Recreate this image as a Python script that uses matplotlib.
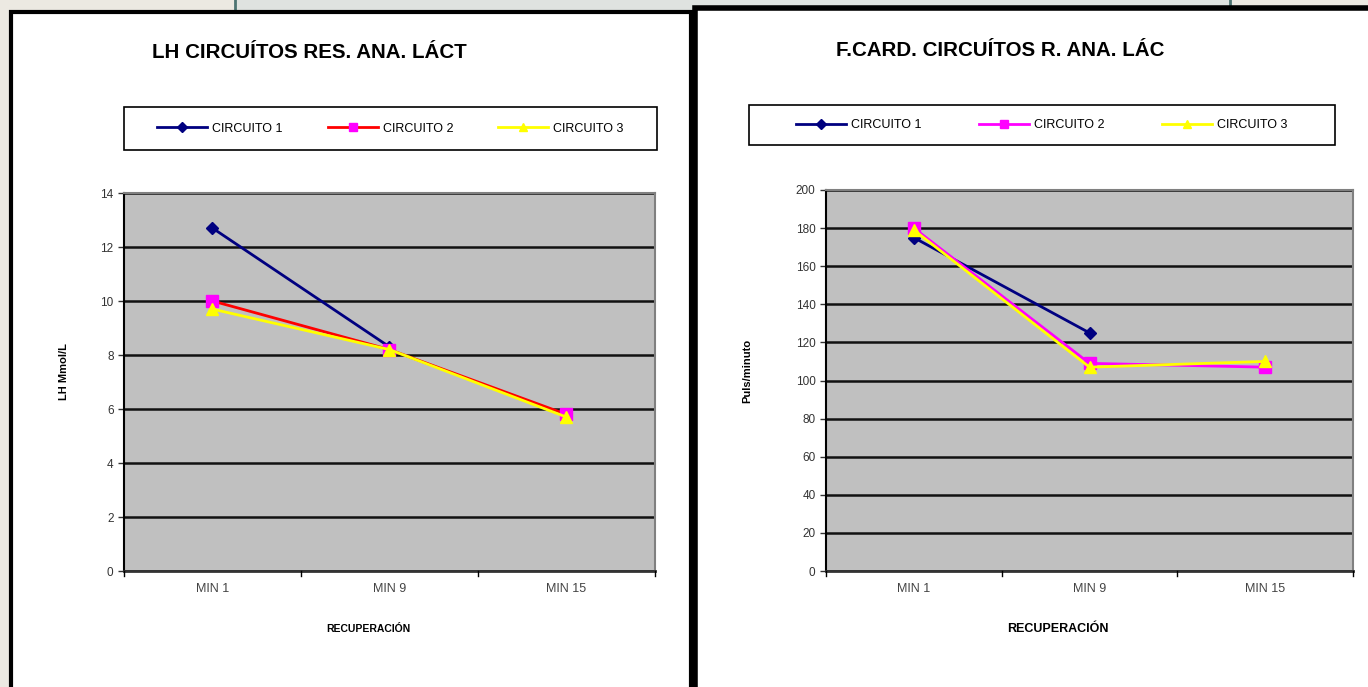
import matplotlib
matplotlib.use("Agg")
import matplotlib.pyplot as plt
import numpy as np
from matplotlib.lines import Line2D
from matplotlib.patches import Rectangle

plt.rcParams["font.family"] = ["Liberation Sans", "DejaVu Sans"]

categories = ["MIN 1", "MIN 9", "MIN 15"]
series_names = ["CIRCUITO 1", "CIRCUITO 2", "CIRCUITO 3"]

lh_c1 = [12.7, 8.3, np.nan]
lh_c2 = [10.0, 8.2, 5.8]
lh_c3 = [9.7, 8.2, 5.7]

fc_c1 = [175, 125, np.nan]
fc_c2 = [180, 109, 107]
fc_c3 = [179, 107, 110]

W, H = 1368, 687
BG = "#ece9e2"
PLOT_BG = "#c0c0c0"


def fx(px):
    return px / W


def fy(py):
    return 1 - py / H


def draw_box(fig, x0, y0, x1, y1, lw, face="white", edge="black", z=0):
    fig.patches.append(Rectangle((fx(x0), fy(y1)), fx(x1 - x0), (y1 - y0) / H,
                                 transform=fig.transFigure, facecolor=face,
                                 edgecolor=edge, linewidth=lw, zorder=z))


def draw_chart(fig, box, data, colors, ylim, ystep, title, title_xy, ylabel, ylabel_x,
               xlabel, xlabel_x, xlabel_size, leg_box, colspace):
    l, t, r, b = box
    ax = fig.add_axes([fx(l), fy(b), fx(r - l), (b - t) / H])
    ax.set_zorder(2)
    ax.set_facecolor(PLOT_BG)
    x = np.arange(len(categories))
    markers = ["D", "s", "^"]
    msizes = [6, 8, 8]
    mcolors_ = ["#000080", "#ff00ff", "#ffff00"]
    for vals, lc, mk, ms, mc, name in zip(data, colors, markers, msizes, mcolors_, series_names):
        ax.plot(x, vals, color=lc, linewidth=2, marker=mk, markersize=ms,
                markerfacecolor=mc, markeredgecolor=mc, label=name, zorder=3)
    ax.set_xlim(-0.5, len(categories) - 0.5)
    ax.set_ylim(*ylim)
    ax.set_yticks(np.arange(ylim[0], ylim[1] + 0.1, ystep))
    ax.set_xticks(x)
    ax.set_xticklabels(categories, fontsize=9, color="#444444")
    ax.tick_params(axis="y", labelsize=8.5, length=4, colors="#333333", width=1)
    ax.tick_params(axis="x", length=0, pad=9)
    # category separator ticks
    for xt in np.arange(-0.5, len(categories), 1.0):
        ax.plot([xt, xt], [ylim[0], ylim[0] - (ylim[1] - ylim[0]) * 0.012], color="black",
                linewidth=1, clip_on=False, zorder=4)
    ax.yaxis.grid(True, color="#111111", linewidth=1.8)
    ax.set_axisbelow(True)
    for side in ["top", "right"]:
        ax.spines[side].set_color("#808080")
        ax.spines[side].set_linewidth(1.5)
    ax.spines["left"].set_color("black")
    ax.spines["left"].set_linewidth(1.5)
    ax.spines["bottom"].set_color("#333333")
    ax.spines["bottom"].set_linewidth(2)

    fig.text(fx(title_xy[0]), fy(title_xy[1]), title, ha="center", va="center",
             fontsize=14.8, fontweight="bold", zorder=3)
    fig.text(fx(ylabel_x), fy((t + b) / 2 - 10), ylabel, rotation=90, ha="center", va="center",
             fontsize=8, fontweight="bold", zorder=3)
    fig.text(fx(xlabel_x), fy(629), xlabel, ha="center", va="center",
             fontsize=xlabel_size, fontweight="bold", zorder=3)

    lx0, ly0, lx1, ly1 = leg_box
    draw_box(fig, lx0, ly0, lx1, ly1, 1.2, z=1)
    handles = [Line2D([0], [0], color=lc, linewidth=2, marker=mk, markersize=ms * 0.8,
                      markerfacecolor=mc, markeredgecolor=mc)
               for lc, mk, ms, mc in zip(colors, markers, msizes, mcolors_)]
    leg = fig.legend(handles, series_names, loc="center", ncol=3,
                     bbox_to_anchor=(fx((lx0 + lx1) / 2), fy((ly0 + ly1) / 2)),
                     frameon=False, fontsize=9, handlelength=4, handletextpad=0.4,
                     columnspacing=colspace)
    leg.set_zorder(3)
    return ax


fig = plt.figure(figsize=(W / 100, H / 100), dpi=100)
fig.patch.set_facecolor(BG)

# top banner strip
draw_box(fig, 235, -4, 1230, 12, 2, face="#dfe3e0", edge="#4d7472")

draw_box(fig, 11, 12, 691, 700, 3)
draw_box(fig, 695, 8, 1372, 700, 4)

draw_chart(fig, (124, 193, 655, 571), [lh_c1, lh_c2, lh_c3],
           ["#000080", "#ff0000", "#ffff00"], (0, 14), 2,
           "LH CIRCUÍTOS RES. ANA. LÁCT", (309, 53), "LH Mmol/L", 64,
           "RECUPERACIÓN", 368, 7.5, (124, 107, 657, 150), 3.6)

draw_chart(fig, (826, 190, 1353, 571), [fc_c1, fc_c2, fc_c3],
           ["#000080", "#ff00ff", "#ffff00"], (0, 200), 20,
           "F.CARD. CIRCUÍTOS R. ANA. LÁC", (1000, 50), "Puls/minuto", 747,
           "RECUPERACIÓN", 1058, 9, (749, 105, 1335, 145), 4.6)

fig.savefig("out.png", dpi=100, facecolor=BG)
